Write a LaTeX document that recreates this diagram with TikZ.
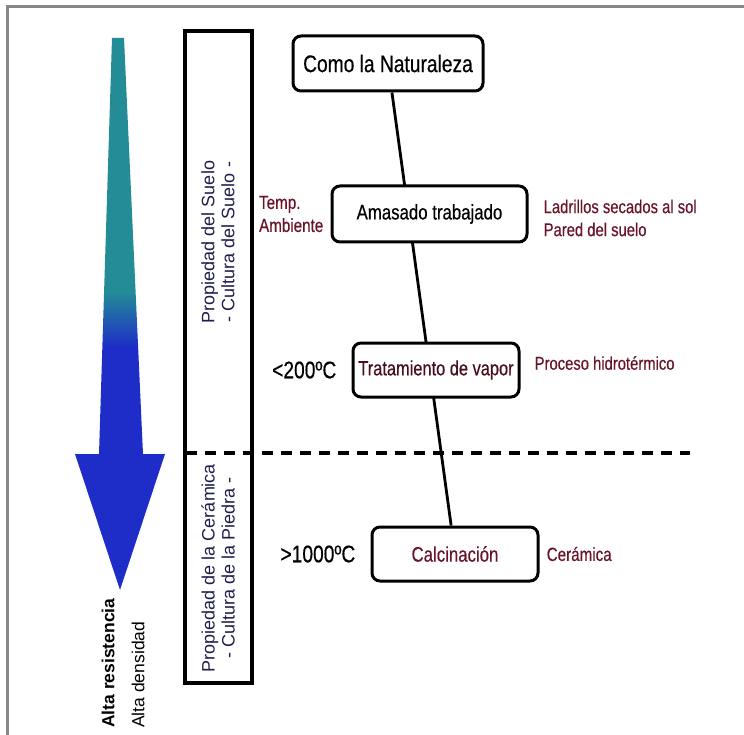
\documentclass[tikz,border=0pt]{standalone}
\usepackage{fontspec}
\setmainfont{Liberation Sans}
\newfontfamily\narrowsans[FakeStretch=0.8, FakeBold=0.4]{Liberation Sans}
\usepackage{tikz}
\usetikzlibrary{positioning,backgrounds}
\definecolor{arrowteal}{RGB}{35,140,150}
\definecolor{arrowblue}{RGB}{30,45,200}
\definecolor{labelred}{RGB}{105,20,40}
\definecolor{zonetext}{RGB}{30,30,75}
\definecolor{framegrey}{RGB}{135,135,135}
\pgfdeclareverticalshading{strength}{100bp}{color(0bp)=(arrowblue); color(47bp)=(arrowblue); color(52bp)=(arrowteal); color(100bp)=(arrowteal)}
\tikzstyle{stage} = [rectangle, draw, line width=3pt, rounded corners=8pt, fill=white, text centered, inner sep=1pt]
\tikzstyle{note} = [inner sep=0pt, text=labelred, align=left]
\tikzstyle{zonelabel} = [rotate=90, align=center, text=zonetext, inner sep=0pt]
\tikzset{link/.style = {line width=2.8pt},
  divider/.style = {line width=3.5pt, dash pattern=on 11pt off 8pt}
}
\newcommand{\txtsize}[2]{\fontsize{#1}{#2}\selectfont}

\begin{document}
\begin{tikzpicture}[x=1pt, y=-1pt]
            \useasboundingbox (0,0) rectangle (744,735);
            % frame of the scan
            \draw[framegrey, line width=3.5pt] (744,6.5) -- (7.5,6.5) -- (7.5,735);

            % arrow
            \shade[shading=strength] (112,38) -- (124,38) -- (143,454) -- (165,454)
                -- (120,590) -- (75,454) -- (99,454) -- cycle;
            \node[rotate=90, anchor=west, inner sep=0pt, font=\bfseries\txtsize{17.5}{20}] (resist) at (108,728) {Alta resistencia};
            \node[rotate=90, anchor=west, inner sep=0pt, font=\txtsize{17.5}{20}] (dense) at (138,728) {Alta densidad};

            % zones
            \node[draw, line width=4pt, minimum width=67pt, minimum height=652pt, inner sep=0pt] (zone) at (218.5,357) {};
            \node[zonelabel, font=\txtsize{18}{20}] (soil) at (218,242) {Propiedad del Suelo\\- Cultura del Suelo -};
            \node[zonelabel, font=\txtsize{18}{20}] (stone) at (218,568) {Propiedad de la Cerámica\\- Cultura de la Piedra -};
            \coordinate (cutL) at (186,453);
            \coordinate (cutR) at (690,453);
            \draw[divider] (cutL) -- (cutR);

            % stages
            \node[stage, minimum width=190pt, minimum height=55pt, font=\narrowsans\txtsize{24}{26}] (como) at (388,63.5) {Como la Naturaleza};
            \node[stage, minimum width=195pt, minimum height=56pt, font=\narrowsans\txtsize{21}{24}] (amasado) at (429.5,214) {Amasado trabajado};
            \node[stage, minimum width=166pt, minimum height=54pt, text=labelred!70!black, font=\narrowsans\txtsize{20.5}{24}] (vapor) at (436,370) {Tratamiento de vapor};
            \node[stage, minimum width=166pt, minimum height=54pt, text=labelred, font=\narrowsans\txtsize{21}{24}] (calc) at (455,554) {Calcinación};

            % side notes
            \node[note, font=\narrowsans\txtsize{19}{23}, left=7pt of amasado] (ambient) {Temp.\\Ambiente};
            \node[note, font=\narrowsans\txtsize{18.5}{23}, right=15pt of amasado, yshift=-4pt] (bricks) {Ladrillos secados al sol\\Pared del suelo};
            \node[note, text=black, font=\narrowsans\txtsize{24}{26}, left=15pt of vapor] (low) {<200ºC};
            \node[note, font=\narrowsans\txtsize{18.5}{22}, right=14pt of vapor, yshift=7pt] (hydro) {Proceso hidrotérmico};
            \node[note, text=black, font=\narrowsans\txtsize{24}{26}, left=15pt of calc] (high) {>1000ºC};
            \node[note, font=\narrowsans\txtsize{19}{22}, right=7pt of calc] (ceramic) {Cerámica};

            %edges
            \begin{scope}[on background layer]
              \draw[link] (como) -- (calc);
            \end{scope}
\end{tikzpicture}
\end{document}
